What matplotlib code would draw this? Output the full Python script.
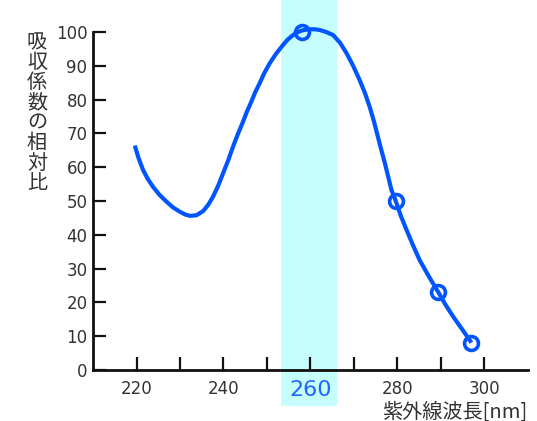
import numpy as np
import matplotlib.pyplot as plt

plt.rcParams['font.family'] = ['DejaVu Sans', 'Noto Sans CJK JP']

# curve (wavelength nm, relative absorbance)
curve_x = [219.6, 220.5, 221.5, 222.6, 223.8, 225.3, 226.9, 228.4, 230.0, 231.2,
           232.3, 233.8, 235.3, 236.5, 237.6, 238.8, 239.9, 241.1, 242.2, 243.3,
           244.5, 245.4, 246.4, 247.3, 248.3, 249.4, 250.6, 252.1, 253.7, 254.8,
           256.0, 257.0, 257.9, 259.0, 260.0, 261.0, 262.1, 263.6, 265.2, 266.8,
           268.3, 269.8, 271.3, 272.5, 273.6, 274.6, 275.5, 276.3, 277.1, 277.9,
           278.6, 279.6, 280.8, 282.1, 283.6, 285.1, 287.2, 289.3, 291.0, 292.8,
           295.0, 297.0]
curve_y = [66.4, 62.6, 59.2, 56.5, 54.2, 51.8, 49.8, 48.1, 46.8, 46.0,
           45.6, 45.8, 47.0, 48.9, 51.3, 54.6, 58.2, 62.1, 66.1, 69.8,
           73.5, 76.5, 79.4, 82.2, 84.8, 87.9, 90.7, 93.6, 96.2, 97.8,
           99.1, 99.9, 100.4, 100.7, 100.8, 100.8, 100.6, 100.0, 99.1, 96.8,
           93.7, 90.0, 85.8, 82.0, 77.9, 73.5, 69.0, 65.0, 61.2, 57.0,
           53.3, 50.0, 45.5, 41.4, 36.8, 32.5, 27.7, 23.2, 19.4, 15.8,
           11.8, 8.1]
mark_x = [258, 279.6, 289.3, 297]
mark_y = [100, 50, 23.2, 8]

xticks_major = [220, 240, 260, 280, 300]
xticks_minor = [230, 250, 270, 290]
yticks = list(range(0, 101, 10))
band = (253.3, 266.0)

blue = '#0055ff'
txt = '#333333'

fig = plt.figure(figsize=(5.37, 4.21), dpi=100)
ax = fig.add_axes([0.1732, 0.1211, 0.81, 0.8029])

ax.axvspan(band[0], band[1], ymin=-0.106, ymax=1.2, color='#c6fdfd',
           lw=0, zorder=0, clip_on=False)

ax.plot(curve_x, curve_y, color=blue, lw=3, solid_capstyle='butt',
        solid_joinstyle='round', clip_on=False, zorder=3)
ax.plot(mark_x, mark_y, 'o', ms=10, mfc='none', mec=blue, mew=2.6,
        clip_on=False, zorder=4)

ax.set_xlim(210, 310)
ax.set_ylim(0, 100)
for s in ['top', 'right']:
    ax.spines[s].set_visible(False)
for s in ['left', 'bottom']:
    ax.spines[s].set_linewidth(2)
    ax.spines[s].set_color('#111111')
    ax.spines[s].set_zorder(5)

ax.set_xticks(xticks_major)
ax.set_xticks(xticks_minor, minor=True)
ax.set_yticks(yticks)
ax.tick_params(axis='both', which='both', direction='in', length=9.5,
               width=1.6, color='#111111', labelcolor=txt, labelsize=12)
ax.tick_params(axis='x', which='both', pad=7)
ax.tick_params(axis='y', pad=4)

for lab in ax.get_xticklabels():
    if lab.get_text() == '260':
        lab.set_color('#1f66ff')
        lab.set_fontsize(16)

ylab = '吸収係数の相対比'
for i, ch in enumerate(ylab):
    fig.text(37 / 537, 1 - (43 + i * 20.0) / 421, ch, ha='center', va='center',
             fontsize=14.5, color=txt, family=['Noto Sans CJK JP'])

fig.text(382 / 537, 1 - 412 / 421, '紫外線波長[nm]', ha='left', va='center',
         fontsize=14.5, color=txt, family=['Noto Sans CJK JP'])

fig.savefig('out.png', dpi=100)
